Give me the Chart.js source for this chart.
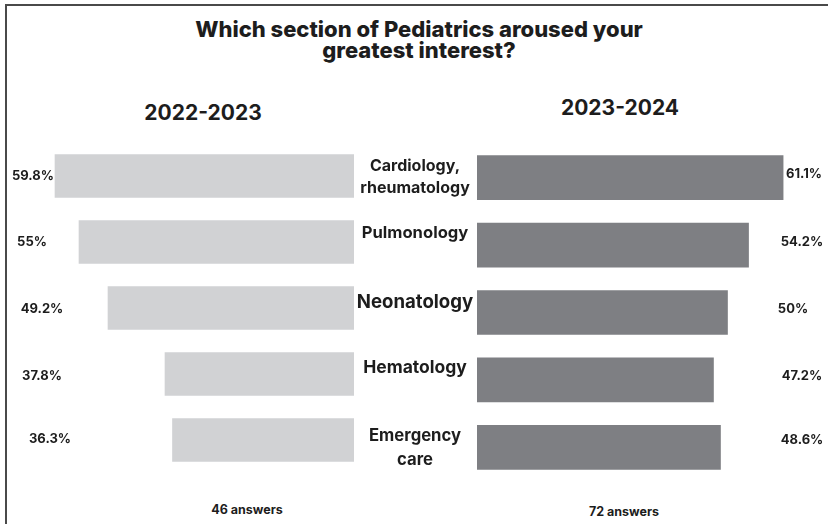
<!DOCTYPE html>
<html>
<head>
<meta charset="utf-8">
<script src="https://cdn.jsdelivr.net/npm/chart.js@4.4.1/dist/chart.umd.min.js"></script>
<style>
  body { margin: 0; width: 828px; height: 524px; overflow: hidden; background: #fff; position: relative; font-family: Inter, sans-serif; color: #1d1d1d; }
  #frame { position: absolute; left: 5px; top: 4px; width: 900px; height: 600px; border-left: 2px solid #4a4a4a; border-top: 2px solid #4a4a4a; }
  .t { position: absolute; font-weight: bold; white-space: nowrap; transform: translate(-50%, -50%); }
  #title { left: 419px; top: 40px; font-size: 22px; font-weight: 800; line-height: 21px; text-align: center; }
  .year { font-size: 21px; }
  .foot { font-size: 12.5px; }
  .box { position: absolute; }
</style>
</head>
<body>
<div id="frame"></div>
<div class="t" id="title">Which section of Pediatrics aroused your<br>greatest interest?</div>
<div class="t year" style="left:203px; top:112px;">2022-2023</div>
<div class="t year" style="left:620px; top:107px;">2023-2024</div>
<div class="box" style="left:0; top:143px; width:354px; height:330px;"><canvas id="leftChart"></canvas></div>
<div class="box" style="left:354px; top:144px; width:474px; height:337px;"><canvas id="rightChart"></canvas></div>
<div class="t foot" style="left:247px; top:509px;">46 answers</div>
<div class="t foot" style="left:624px; top:511px;">72 answers</div>
<script>
var categories = [["Cardiology,", "rheumatology"], "Pulmonology", "Neonatology", "Hematology", ["Emergency", "care"]];
var values2022 = [59.8, 55, 49.2, 37.8, 36.3];
var values2023 = [61.1, 54.2, 50, 47.2, 48.6];
var answers = ["46 answers", "72 answers"];

function pct(v) { return v + "%"; }

// draws the % labels (and the category names on the right chart)
var textPlugin = {
    id: 'sideText',
    afterDatasetsDraw: function(chart, args, opts) {
        var ctx = chart.ctx;
        var meta = chart.getDatasetMeta(0);
        ctx.save();
        ctx.fillStyle = '#1d1d1d';
        ctx.textAlign = 'center';
        ctx.textBaseline = 'middle';
        ctx.font = 'bold 13px Inter, sans-serif';
        meta.data.forEach(function(bar, i) {
            var v = chart.data.datasets[0].data[i];
            ctx.fillText(pct(v), opts.pctX[i], bar.y + opts.pctDy[i]);
        });
        if (opts.cats) {
            chart.data.labels.forEach(function(lab, i) {
                var lines = Array.isArray(lab) ? lab : [lab];
                var y0 = meta.data[i].y + opts.catDy[i] - (lines.length - 1) * opts.catLh[i] / 2;
                ctx.font = 'bold ' + opts.catSize[i] + 'px Inter, sans-serif';
                lines.forEach(function(l, k) {
                    ctx.fillText(l, opts.catX, y0 + k * opts.catLh[i]);
                });
            });
        }
        ctx.restore();
    }
};

var leftChart = new Chart(document.getElementById('leftChart'), {
    type: 'bar',
    data: {
        labels: categories,
        datasets: [{ data: values2022, backgroundColor: '#d1d2d4', barThickness: 43 }]
    },
    options: {
        indexAxis: 'y',
        responsive: true,
        maintainAspectRatio: false,
        animation: false,
        layout: { padding: 0 },
        scales: {
            x: { display: false, reverse: true, min: 0, max: 70.8 },
            y: { display: false }
        },
        plugins: {
            legend: { display: false },
            tooltip: { enabled: false },
            sideText: { pctX: [33, 32, 42, 42, 50], pctDy: [0, 0, 1, 2, -1] }
        }
    },
    plugins: [textPlugin]
});

var rightChart = new Chart(document.getElementById('rightChart'), {
    type: 'bar',
    data: {
        labels: categories,
        datasets: [{ data: values2023, backgroundColor: '#7e7f83', barThickness: 44 }]
    },
    options: {
        indexAxis: 'y',
        responsive: true,
        maintainAspectRatio: false,
        animation: false,
        layout: { padding: { left: 123, right: 0, top: 0, bottom: 0 } },
        scales: {
            x: { display: false, min: 0, max: 70.06 },
            y: { display: false }
        },
        plugins: {
            legend: { display: false },
            tooltip: { enabled: false },
            sideText: {
                pctX: [804, 802, 793, 802, 802].map(function(x) { return x - 354; }),
                pctDy: [-4, -3, -3, -4, -7],
                cats: true, catX: 61,
                catSize: [16, 16.6, 18.6, 17.5, 16.7],
                catDy: [-0.7, -12, -10.5, -12, 0.7],
                catLh: [22, 22, 22, 22, 24]
            }
        }
    },
    plugins: [textPlugin]
});
</script>
</body>
</html>
